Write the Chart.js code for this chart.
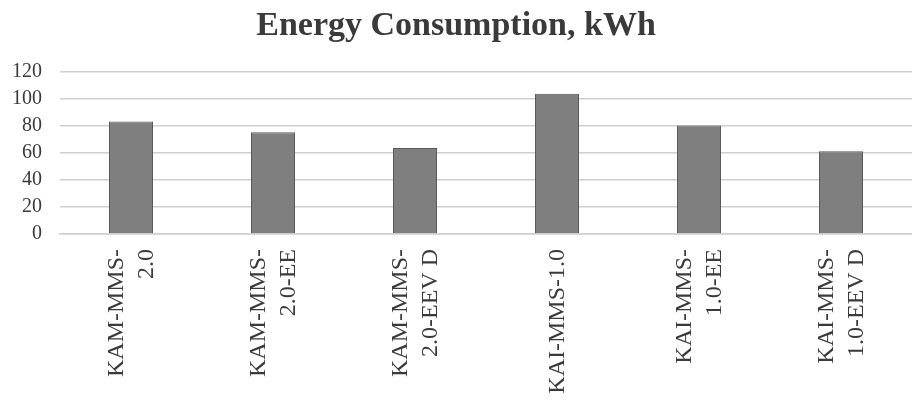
<!DOCTYPE html>
<html>
<head>
<meta charset="utf-8">
<script src="https://cdn.jsdelivr.net/npm/chart.js@4.4.1/dist/chart.umd.min.js"></script>
<style>
  html, body { margin: 0; padding: 0; background: #ffffff; }
  #wrap { width: 912px; height: 404px; position: relative; }
</style>
</head>
<body>
<div id="wrap"><canvas id="chart"></canvas></div>
<script>
// Energy use per configuration (kWh)
const categories = [
  ["KAM-MMS-", "2.0"],
  ["KAM-MMS-", "2.0-EE"],
  ["KAM-MMS-", "2.0-EEV D"],
  ["KAI-MMS-1.0"],
  ["KAI-MMS-", "1.0-EE"],
  ["KAI-MMS-", "1.0-EEV D"]
];
const energyKWh = [83, 75, 63.5, 103.5, 80, 61];
const yTicks = [0, 20, 40, 60, 80, 100, 120];

const textColor = '#3a3a3a';
const serif = '"Liberation Serif", "Times New Roman", serif';
const xLabelSize = 24;
const xLineHeight = 30;

// Rotated, multi-line category labels centred on each tick of the x scale
const verticalLabels = {
  id: 'verticalLabels',
  afterDraw(chart) {
    const xs = chart.scales.x;
    const ctx = chart.ctx;
    ctx.save();
    ctx.fillStyle = textColor;
    ctx.font = xLabelSize + 'px ' + serif;
    ctx.textAlign = 'right';
    ctx.textBaseline = 'middle';
    xs.ticks.forEach((t, i) => {
      const cx = xs.getPixelForTick(i) + 1;
      const lines = [].concat(xs.getLabelForValue(t.value));
      lines.forEach((line, j) => {
        const lx = cx + (j - (lines.length - 1) / 2) * xLineHeight;
        ctx.save();
        ctx.translate(lx, xs.top + 15);
        ctx.rotate(-Math.PI / 2);
        ctx.fillText(line, 0, 0);
        ctx.restore();
      });
    });
    ctx.restore();
  }
};

new Chart(document.getElementById('chart'), {
  type: 'bar',
  data: {
    labels: categories,
    datasets: [{
      label: 'Energy Consumption, kWh',
      data: energyKWh,
      backgroundColor: '#7f7f7f',
      borderColor: '#5a5a5a',
      borderWidth: 1,
      barPercentage: 0.31,
      categoryPercentage: 1.0
    }]
  },
  plugins: [verticalLabels],
  options: {
    responsive: true,
    maintainAspectRatio: false,
    animation: false,
    layout: { padding: { left: 0, right: 0, top: 0, bottom: 0 } },
    plugins: {
      legend: { display: false },
      tooltip: { enabled: false },
      title: {
        display: true,
        text: 'Energy Consumption, kWh',
        color: textColor,
        font: { family: serif, size: 34, weight: 'bold', lineHeight: 1.2 },
        padding: { top: 6, bottom: 24.5 }
      }
    },
    scales: {
      x: {
        grid: { display: false, drawTicks: false },
        border: { display: true, color: '#cfcfcf', width: 1.5 },
        ticks: { display: false },
        afterFit(scale) { scale.height = 170; }
      },
      y: {
        min: 0,
        max: 120,
        afterBuildTicks(scale) { scale.ticks = yTicks.map(v => ({ value: v })); },
        grid: { color: '#cfcfcf', lineWidth: 1.5, drawTicks: false },
        border: { display: false },
        ticks: {
          color: textColor,
          font: { family: serif, size: 20 },
          padding: 18
        },
        afterFit(scale) { scale.width = 60; }
      }
    }
  }
});
</script>
</body>
</html>
